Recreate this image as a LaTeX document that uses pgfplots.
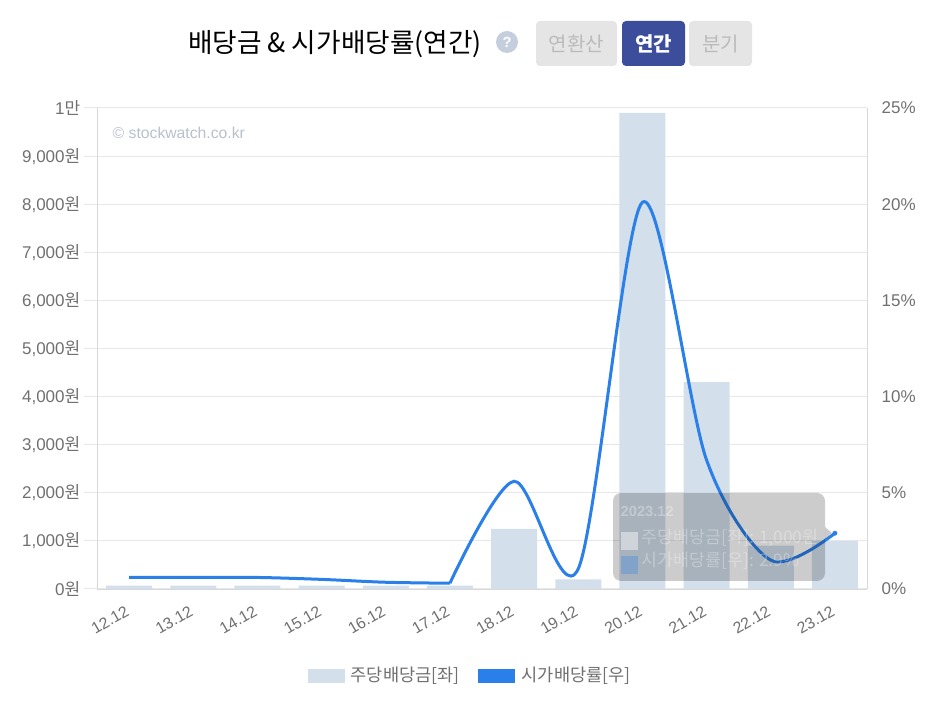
\documentclass[border=0pt]{standalone}
\usepackage{fontspec}
\usepackage{pgfplots}
\pgfplotsset{compat=1.18}
\setmainfont{Liberation Sans}
\newfontfamily\kr{Noto Sans CJK KR}
\definecolor{barc}{HTML}{D3DFEB}
\definecolor{linec}{HTML}{2A7FE8}
\definecolor{gridc}{HTML}{E8E8EC}
\definecolor{axc}{HTML}{D8D8DC}
\definecolor{labc}{HTML}{707070}
\definecolor{btn}{HTML}{E5E5E5}
\definecolor{btnt}{HTML}{BBBBBB}
\definecolor{navy}{HTML}{3B4D9B}
\definecolor{qc}{HTML}{C4CEDC}
\definecolor{wm}{HTML}{B8C0CC}
\newcommand{\won}{{\kr 원}}
\newcommand{\px}[1]{\fontsize{#1}{#1}\selectfont}
\begin{document}
\begin{tikzpicture}[x=0.75pt,y=0.75pt]
\path[use as bounding box] (0,0) rectangle (936,703);
\begin{axis}[
    at={(72.75pt,85.5pt)}, anchor=south west,
    scale only axis, width=577.5pt, height=360.75pt,
    xmin=-0.5, xmax=11.5, ymin=0, ymax=10000,
    axis y line*=left, axis x line*=bottom,
    axis line style={axc, -},
    scaled y ticks=false,
    xtick={0,...,11},
    xticklabels={12.12,13.12,14.12,15.12,16.12,17.12,18.12,19.12,20.12,21.12,22.12,23.12},
    x tick label style={rotate=30, anchor=north east, xshift=-0.5pt, yshift=3.5pt, font=\px{12}, text=labc},
    major x tick style={draw=none},
    ytick={0,1000,...,10000},
    yticklabels={0\won,{1,000\won},{2,000\won},{3,000\won},{4,000\won},{5,000\won},{6,000\won},{7,000\won},{8,000\won},{9,000\won},{1{\kr 만}}},
    y tick label style={font=\px{12.75}, text=labc, xshift=1pt},
    major y tick style={gridc, line width=0.75pt},
    tick align=outside,
    major tick length=10pt,
    ymajorgrids, grid style={gridc, line width=0.75pt},
]
\addplot[ybar, bar width=34.5pt, fill=barc, draw=none] coordinates {
(0,70) (1,70) (2,70) (3,70) (4,70) (5,70) (6,1250) (7,200) (8,9900) (9,4300) (10,900) (11,1000)};
\end{axis}
\begin{axis}[
    at={(72.75pt,85.5pt)}, anchor=south west,
    scale only axis, width=577.5pt, height=360.75pt,
    xmin=-0.5, xmax=11.5, ymin=0, ymax=25,
    axis y line*=right, axis x line=none,
    axis line style={axc, -},
    ytick={0,5,...,25},
    yticklabels={0\%,5\%,10\%,15\%,20\%,25\%},
    y tick label style={font=\px{12.75}, text=labc, xshift=7.5pt},
    major y tick style={draw=none},
    legend columns=2,
    legend cell align=left,
    legend style={draw=none, fill=none, at={(0.485,-0.18)}, anchor=center,
      font=\px{13.2}\kr\color{labc},
      /tikz/every even column/.append style={column sep=12pt}},
]
\addlegendimage{legend image code/.code={\fill[barc] (0pt,-5pt) rectangle (27pt,5pt);}}
\addlegendentry{\hspace{3pt}주당배당금[좌]}
\addlegendimage{legend image code/.code={\fill[linec] (0pt,-5pt) rectangle (27pt,5pt);}}
\addlegendentry{\hspace{3pt}시가배당률[우]}
\addplot[linec, line width=2.25pt, smooth, tension=0.5, forget plot] coordinates {
(0,0.6) (1,0.6) (2,0.6) (3,0.5) (4,0.35) (5,0.3)};
\addplot[linec, line width=2.25pt, smooth, tension=0.5, forget plot] coordinates {
(5,0.3) (6,5.6) (7,1.05) (8,20.1) (9,6.7) (10,1.5) (11,2.9)};
\addplot[only marks, mark=*, mark size=1.6pt, linec, forget plot] coordinates {(11,2.9)};
\end{axis}
% title and buttons
\node[anchor=center, font=\px{20}\kr, text=black] at (335,659) {배당금 \& 시가배당률(연간)};
\fill[qc] (507,661) circle (11);
\node[font=\px{11}\bfseries, text=white] at (507,661) {?};
\fill[btn, rounded corners=3pt] (536,637) rectangle (617,682);
\node[font=\px{15}\kr, text=btnt] at (576.5,659) {연환산};
\fill[navy, rounded corners=3pt] (622,637) rectangle (685,682);
\node[font=\px{15}\kr\bfseries, text=white] at (653.5,659) {연간};
\fill[btn, rounded corners=3pt] (689,637) rectangle (752,682);
\node[font=\px{15}\kr, text=btnt] at (720.5,659) {분기};
\node[anchor=west, font=\px{11.8}, text=wm] at (108,570) {© stockwatch.co.kr};
% tooltip
\fill[black, opacity=0.2, rounded corners=6pt] (613,122) rectangle (825,210);
\fill[black, opacity=0.2] (825,176) -- (832,170) -- (825,164) -- cycle;
\begin{scope}[text opacity=0.3, text=white]
\node[anchor=west, font=\px{11}\bfseries] at (616,192) {2023.12};
\fill[white, opacity=0.45] (621,153) rectangle (638,171);
\node[anchor=west, font=\px{13}\kr] at (637,165) {주당배당금[좌]: 1,000원};
\fill[linec, opacity=0.3] (621,129) rectangle (638,147);
\node[anchor=west, font=\px{13}\kr] at (637,142) {시가배당률[우]: 2.9\%};
\end{scope}
\end{tikzpicture}
\end{document}
